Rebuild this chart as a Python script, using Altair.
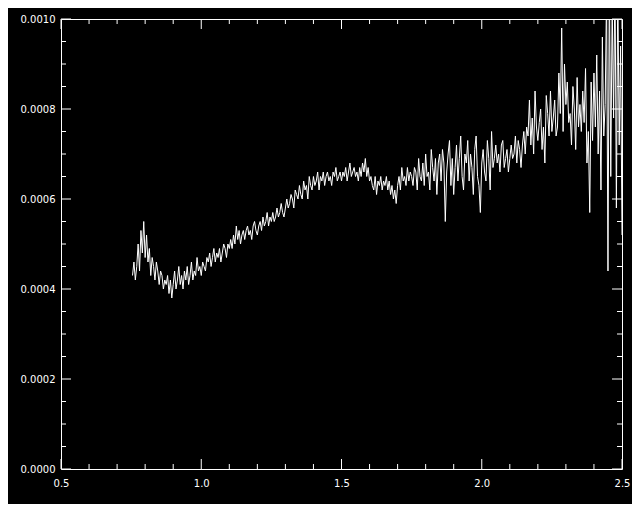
import altair as alt
import pandas as pd

# Wavelength grid (microns): start and step of the sampled spectrum
x_start = 0.755
x_step = 0.005

# Flux values in units of 1e-4 (10 samples per 0.05 micron)
flux_e4 = [
    4.3, 4.6, 4.2, 4.5, 5.0, 4.4, 5.3, 4.8, 5.5, 4.7,
    5.2, 4.6, 4.9, 4.3, 4.7, 4.5, 4.2, 4.6, 4.4, 4.1,
    4.4, 4.3, 4.0, 4.2, 4.1, 4.3, 3.9, 4.2, 3.8, 4.1,
    4.4, 4.0, 4.2, 4.5, 4.1, 4.3, 4.0, 4.4, 4.2, 4.5,
    4.1, 4.3, 4.6, 4.2, 4.4, 4.3, 4.7, 4.4, 4.5, 4.3,
    4.6, 4.5, 4.4, 4.7, 4.6, 4.8, 4.5, 4.7, 4.9, 4.6,
    4.8, 4.7, 4.9, 4.6, 4.8, 5.0, 4.9, 4.7, 5.0, 4.9,
    5.1, 4.9, 5.2, 5.0, 5.4, 5.1, 5.3, 5.0, 5.2, 5.3,
    5.1, 5.3, 5.4, 5.2, 5.3, 5.1, 5.4, 5.5, 5.3, 5.2,
    5.4, 5.5, 5.3, 5.6, 5.4, 5.5, 5.7, 5.4, 5.6, 5.5,
    5.7, 5.5, 5.6, 5.8, 5.6, 5.7, 5.9, 5.7, 5.6, 5.8,
    6.0, 5.8, 5.9, 6.1, 6.0, 5.8, 6.2, 6.1, 6.0, 6.3,
    6.1, 6.0, 6.4, 6.2, 6.3, 6.0, 6.5, 6.3, 6.2, 6.5,
    6.3, 6.4, 6.6, 6.2, 6.5, 6.4, 6.6, 6.3, 6.5, 6.6,
    6.4, 6.5, 6.3, 6.6, 6.5, 6.7, 6.4, 6.5, 6.6, 6.4,
    6.6, 6.5, 6.7, 6.4, 6.6, 6.8, 6.5, 6.6, 6.7, 6.5,
    6.6, 6.4, 6.7, 6.5, 6.8, 6.6, 6.9, 6.5, 6.7, 6.4,
    6.5, 6.3, 6.2, 6.5, 6.1, 6.4, 6.3, 6.5, 6.2, 6.4,
    6.3, 6.5, 6.2, 6.4, 6.1, 6.3, 6.0, 6.2, 5.9, 6.3,
    6.5, 6.2, 6.7, 6.4, 6.5, 6.3, 6.7, 6.4, 6.6, 6.5,
    6.3, 6.7, 6.6, 6.2, 6.9, 6.5, 6.4, 6.8, 6.3, 7.0,
    6.5, 6.6, 6.2, 7.1, 6.7, 6.4, 6.9, 6.1, 6.8, 7.0,
    6.4, 7.1, 6.8, 5.5, 6.6, 7.0, 7.3, 6.3, 6.9, 6.1,
    6.7, 7.2, 6.4, 6.9, 7.4, 6.5, 6.2, 7.0, 6.8, 7.3,
    6.4, 7.0, 6.7, 6.1, 7.1, 7.4, 6.5, 6.3, 5.7, 6.8,
    7.1, 6.6, 6.4, 7.3, 6.9, 6.2, 7.5, 6.7, 6.9, 7.2,
    6.8, 7.0, 6.6, 7.2, 7.3, 6.7, 6.9, 7.1, 6.6, 6.9,
    7.2, 6.9, 7.0, 7.4, 6.8, 7.3, 7.1, 6.7, 7.2, 7.5,
    7.0, 7.6, 7.4, 8.2, 7.2, 7.8, 7.0, 8.4, 7.6, 7.3,
    7.7, 8.0, 7.1, 7.6, 6.8, 8.3, 7.9, 7.4, 8.4, 7.5,
    7.8, 8.2, 7.4, 7.6, 8.8, 7.9, 9.8, 7.5, 9.0, 8.1,
    8.6, 7.7, 7.9, 7.2, 8.5, 8.0, 7.1, 8.7, 7.6, 8.1,
    7.5, 8.4, 7.7, 8.9, 6.8, 7.5, 5.7, 8.6, 7.3, 8.8,
    7.6, 9.2, 7.0, 8.4, 6.2, 9.6, 7.4, 8.1, 10.6, 4.4,
    11.0, 6.5, 10.4, 7.8, 11.0, 5.8, 10.8, 7.2, 9.4, 5.2,
]

x_major = [0.5, 1.0, 1.5, 2.0, 2.5]
x_minor = [0.6, 0.7, 0.8, 0.9, 1.1, 1.2, 1.3, 1.4, 1.6, 1.7, 1.8, 1.9,
           2.1, 2.2, 2.3, 2.4]
y_major = [0.0, 0.0002, 0.0004, 0.0006, 0.0008, 0.0010]
y_minor = [0.00005, 0.0001, 0.00015, 0.00025, 0.0003, 0.00035,
           0.00045, 0.0005, 0.00055, 0.00065, 0.0007, 0.00075,
           0.00085, 0.0009, 0.00095]

W, H = 561, 450
FONT = "DejaVu Sans"

df = pd.DataFrame({
    "wave": [x_start + x_step * i for i in range(len(flux_e4))],
    "flux": [v * 1e-4 for v in flux_e4],
})

xs = alt.Scale(domain=[0.5, 2.5], nice=False, zero=False)
ys = alt.Scale(domain=[0.0, 0.001], nice=False, zero=False)

x_axis = alt.Axis(values=x_major, format=".1f", ticks=False, domain=False,
                  grid=False, labelColor="white", labelFont=FONT,
                  labelFontSize=10, labelPadding=9, labelFlush=False,
                  labelOverlap=False, title=None)
y_axis = alt.Axis(values=y_major, format=".4f", ticks=False, domain=False,
                  grid=False, labelColor="white", labelFont=FONT,
                  labelFontSize=10, labelPadding=6, labelOverlap=False,
                  title=None)

line = alt.Chart(df).mark_line(color="white", strokeWidth=1, clip=True).encode(
    x=alt.X("wave:Q", scale=xs, axis=x_axis, title=None),
    y=alt.Y("flux:Q", scale=ys, axis=y_axis, title=None),
)

xmaj = pd.DataFrame({"v": x_major})
xmin = pd.DataFrame({"v": x_minor})
ymaj = pd.DataFrame({"v": y_major})
ymin = pd.DataFrame({"v": y_minor})

def xticks(data, length):
    bottom = alt.Chart(data).mark_rule(color="white", strokeWidth=1).encode(
        x=alt.X("v:Q", scale=xs, axis=x_axis, title=None),
        y=alt.value(H), y2=alt.value(H - length))
    top = alt.Chart(data).mark_rule(color="white", strokeWidth=1).encode(
        x=alt.X("v:Q", scale=xs, axis=x_axis, title=None),
        y=alt.value(0), y2=alt.value(length))
    return [bottom, top]

def yticks(data, length):
    left = alt.Chart(data).mark_rule(color="white", strokeWidth=1).encode(
        y=alt.Y("v:Q", scale=ys, axis=y_axis, title=None),
        x=alt.value(0), x2=alt.value(length))
    right = alt.Chart(data).mark_rule(color="white", strokeWidth=1).encode(
        y=alt.Y("v:Q", scale=ys, axis=y_axis, title=None),
        x=alt.value(W), x2=alt.value(W - length))
    return [left, right]

layers = [line] + xticks(xmaj, 10) + xticks(xmin, 5) + yticks(ymaj, 10) + yticks(ymin, 5)

chart = alt.layer(*layers).properties(
    width=W, height=H,
    autosize=alt.AutoSizeParams(type="none"),
    padding={"left": 53, "top": 11, "right": 10, "bottom": 35},
).configure(background="black").configure_view(stroke="white", strokeWidth=1)

chart.save("out.html", embed_options={"renderer": "svg", "actions": False})
